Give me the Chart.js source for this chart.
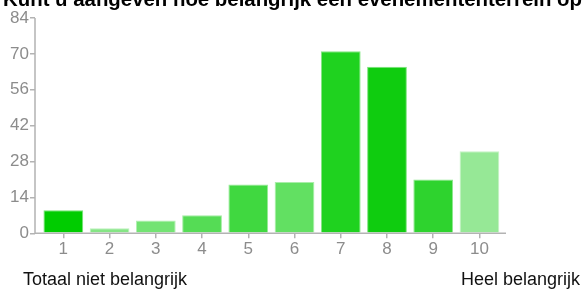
<!DOCTYPE html>
<html>
<head>
<meta charset="utf-8">
<script src="https://cdn.jsdelivr.net/npm/chart.js@4/dist/chart.umd.min.js"></script>
<style>
html,body{margin:0;padding:0;background:#fff;}
#wrap{width:582px;height:298px;position:relative;}
</style>
</head>
<body>
<div id="wrap"><canvas id="c" width="582" height="298"></canvas></div>
<script>
const titleText = "Kunt u aangeven hoe belangrijk een evenemententerrein op";
const categories = ["1","2","3","4","5","6","7","8","9","10"];
const values = [9, 2, 5, 7, 19, 20, 71, 65, 21, 32];
const barColors = ["#00cc00","#85e585","#73e373","#55dc55","#40d840","#62e062","#1fd21f","#0fcc0f","#2ed32e","#96e896"];
const yTicks = [0, 14, 28, 42, 56, 70, 84];
const leftLabel = "Totaal niet belangrijk";
const rightLabel = "Heel belangrijk";

const borderColors = barColors.map(c => {
  const r = parseInt(c.slice(1,3),16), g = parseInt(c.slice(3,5),16), b = parseInt(c.slice(5,7),16);
  const m = v => Math.round(v + (255 - v) * 0.45);
  return `rgb(${m(r)},${m(g)},${m(b)})`;
});

const extras = {
  id: 'extras',
  afterDraw(chart) {
    const ctx = chart.ctx;
    const a = chart.chartArea;
    ctx.save();
    ctx.strokeStyle = '#b3b3b3';
    ctx.lineWidth = 1.5;
    ctx.beginPath();
    ctx.moveTo(a.left, a.top);
    ctx.lineTo(a.left, a.bottom);
    ctx.lineTo(a.right, a.bottom);
    ctx.stroke();
    ctx.fillStyle = '#000';
    ctx.font = 'bold 20.4px "Liberation Sans", Arial, sans-serif';
    ctx.textBaseline = 'alphabetic';
    ctx.textAlign = 'left';
    ctx.fillText(titleText, 3, 5.5);
    ctx.fillStyle = '#111';
    ctx.font = '18px "Liberation Sans", Arial, sans-serif';
    ctx.fillText(leftLabel, 23, 285);
    ctx.textAlign = 'right';
    ctx.fillText(rightLabel, 580, 285);
    ctx.restore();
  }
};

new Chart(document.getElementById('c'), {
  type: 'bar',
  data: {
    datasets: [{
      data: values.map((v, i) => ({x: i + 1, y: v})),
      backgroundColor: barColors,
      borderColor: borderColors,
      borderWidth: 1,
      borderSkipped: 'bottom',
      barPercentage: 0.86,
      categoryPercentage: 1
    }]
  },
  options: {
    responsive: false,
    animation: false,
    events: [],
    layout: { padding: { top: 18, right: 76, bottom: 40, left: 0 } },
    plugins: { legend: { display: false }, tooltip: { enabled: false }, title: { display: false } },
    scales: {
      x: {
        type: 'linear',
        offset: false,
        min: 0.387,
        max: 10.574,
        afterBuildTicks: s => { s.ticks = categories.map((_, i) => ({ value: i + 1 })); },
        afterFit: s => { s.height = 24.7; },
        border: { display: false },
        grid: { offset: false, drawOnChartArea: false, tickLength: 5, color: '#b3b3b3', lineWidth: 1.5 },
        ticks: {
          color: '#8c8c8c',
          font: { size: 17, family: '"Liberation Sans", Arial, sans-serif' },
          padding: 1,
          maxRotation: 0,
          autoSkip: false,
          callback: v => categories[Math.round(v) - 1]
        }
      },
      y: {
        min: 0,
        max: 84,
        afterBuildTicks: s => { s.ticks = yTicks.map(v => ({ value: v })); },
        afterFit: s => { s.width = 35; },
        border: { display: false },
        grid: { drawOnChartArea: false, tickLength: 5, color: '#b3b3b3', lineWidth: 1.5 },
        ticks: {
          color: '#8c8c8c',
          font: { size: 17, family: '"Liberation Sans", Arial, sans-serif' },
          padding: 1
        }
      }
    }
  },
  plugins: [extras]
});
</script>
</body>
</html>
